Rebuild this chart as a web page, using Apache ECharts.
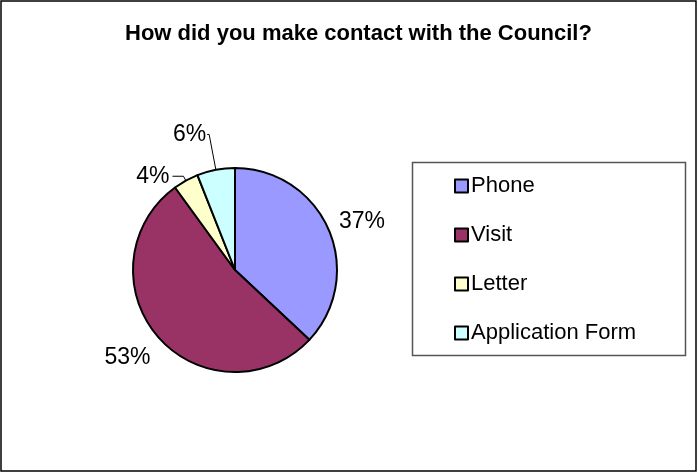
<!DOCTYPE html>
<html>
<head>
<meta charset="utf-8">
<script src="https://cdn.jsdelivr.net/npm/echarts@6/dist/echarts.min.js"></script>
<style>
  html, body { margin: 0; padding: 0; background: #fff; }
  #chart { width: 698px; height: 473px; }
</style>
</head>
<body>
<div id="chart"></div>
<script>
// Survey answers: how residents contacted the Council (percent of replies)
var categories = ['Phone', 'Visit', 'Letter', 'Application Form'];
var shares = [37, 53, 4, 6];
var sliceColors = ['#9999FF', '#993366', '#FFFFCC', '#CCFFFF'];
var chartTitle = 'How did you make contact with the Council?';

var FONT = '"Liberation Sans", Arial, Helvetica, sans-serif';

// Per-slice label leader settings (Excel-like placement)
var leader = [
  { show: false, length: 8, length2: 0 },
  { show: false, length: 12, length2: 0 },
  { show: true, length: 5, length2: 11 },
  { show: true, length: 36, length2: 2 }
];

var pieData = categories.map(function (name, i) {
  var item = {
    name: name,
    value: shares[i],
    itemStyle: { color: sliceColors[i] },
    labelLine: leader[i]
  };
  if (i === 3) { item.label = { distanceToLabelLine: 1 }; }
  return item;
});

var chart = echarts.init(document.getElementById('chart'), null, { renderer: 'canvas' });

chart.setOption({
  animation: false,
  backgroundColor: '#ffffff',
  title: {
    text: chartTitle,
    left: 125,
    top: 23,
    padding: 0,
    textStyle: { fontFamily: FONT, fontSize: 22, fontWeight: 'bold', color: '#000' }
  },
  graphic: [
    {
      type: 'rect',
      shape: { x: 1, y: 1, width: 695, height: 470 },
      style: { fill: 'none', stroke: '#000', lineWidth: 1.5 },
      silent: true
    },
    {
      type: 'rect',
      shape: { x: 412.5, y: 162.5, width: 273, height: 193 },
      style: { fill: 'none', stroke: '#555', lineWidth: 1.5 },
      silent: true
    }
  ],
  legend: {
    orient: 'vertical',
    left: 454,
    top: 175,
    padding: 0,
    icon: 'rect',
    itemWidth: 13,
    itemHeight: 13,
    itemGap: 27,
    itemStyle: { borderColor: '#000', borderWidth: 2 },
    textStyle: { fontFamily: FONT, fontSize: 22, color: '#000', lineHeight: 22, padding: [0, 0, 0, -2] },
    data: categories,
    selectedMode: false
  },
  series: [{
    type: 'pie',
    center: [235, 270],
    radius: 102,
    startAngle: 90,
    clockwise: true,
    avoidLabelOverlap: false,
    data: pieData,
    itemStyle: { borderColor: '#000', borderWidth: 2 },
    label: {
      show: true,
      position: 'outside',
      formatter: '{c}%',
      fontFamily: FONT,
      fontSize: 23,
      color: '#000',
      distanceToLabelLine: 3
    },
    labelLine: {
      lineStyle: { color: '#000', width: 1 },
      smooth: false
    },
    labelLayout: function (params) {
      if (params.dataIndex === 0) { return { dy: -5 }; }
      if (params.dataIndex === 1) { return { dx: 4, dy: 12 }; }
      return {};
    },
    emphasis: { disabled: true }
  }]
});
</script>
</body>
</html>
